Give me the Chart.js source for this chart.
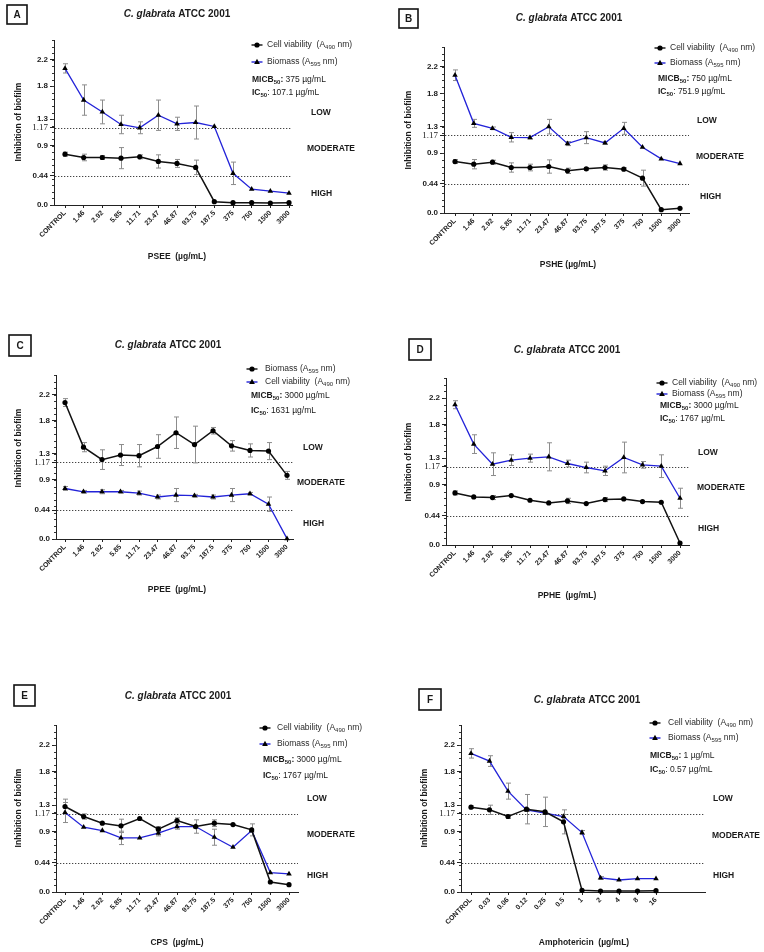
<!DOCTYPE html>
<html><head><meta charset="utf-8">
<script src="https://cdn.jsdelivr.net/npm/chart.js@4.4.1/dist/chart.umd.min.js"></script>
<style>
html,body{margin:0;padding:0;background:#fff;}
#wrap{position:relative;width:764px;height:952px;overflow:hidden;background:#fff;}
canvas{position:absolute;}
</style></head><body><div id="wrap"></div>
<script>
// ---------- DATA ----------
const concLabels = ['CONTROL','1.46','2.92','5.85','11.71','23.47','46.87','93.75','187.5','375','750','1500','3000'];
const amphoLabels = ['CONTROL','0.03','0.06','0.12','0.25','0.5','1','2','4','8','16'];
const yTickValues = [0, 0.44, 0.9, 1.17, 1.3, 1.8, 2.2];
const thresholdLow = 1.17;
const thresholdHigh = 0.44;

// Panel A (PSEE)
const aViability    = [0.77,0.72,0.72,0.71,0.73,0.66,0.63,0.57,0.05,0.035,0.035,0.03,0.035];
const aViabilityErr = [0.03,0.05,0.03,0.16,0.03,0.10,0.06,0.11,0,0,0,0,0];
const aBiomass      = [2.07,1.59,1.41,1.22,1.17,1.36,1.23,1.25,1.19,0.48,0.24,0.21,0.18];
const aBiomassErr   = [0.07,0.23,0.18,0.14,0.09,0.23,0.10,0.25,0,0.17,0,0,0];
// Panel B (PSHE)
const bViability    = [0.775,0.735,0.765,0.685,0.685,0.70,0.635,0.665,0.685,0.66,0.525,0.05,0.07];
const bViabilityErr = [0.03,0.07,0.03,0.07,0.05,0.10,0.04,0.02,0.04,0.02,0.12,0,0];
const bBiomass      = [2.075,1.35,1.275,1.14,1.135,1.30,1.045,1.135,1.055,1.275,0.99,0.815,0.745];
const bBiomassErr   = [0.08,0.06,0.02,0.07,0.02,0.11,0.03,0.09,0.02,0.09,0,0,0];
// Panel C (PPEE)
const cBiomass      = [2.08,1.40,1.21,1.28,1.27,1.41,1.62,1.44,1.65,1.42,1.35,1.34,0.97];
const cBiomassErr   = [0.06,0.07,0.15,0.16,0.17,0.18,0.24,0.28,0.05,0.08,0.10,0.13,0.06];
const cViability    = [0.77,0.72,0.72,0.72,0.70,0.64,0.67,0.66,0.64,0.67,0.69,0.53,0.005];
const cViabilityErr = [0.03,0.02,0.03,0.02,0.03,0.03,0.10,0.02,0.03,0.10,0.02,0.11,0];
// Panel D (PPHE)
const dViability    = [0.78,0.72,0.71,0.74,0.67,0.63,0.66,0.62,0.68,0.69,0.65,0.64,0.03];
const dViabilityErr = [0.03,0,0.03,0,0,0,0.04,0,0.03,0,0,0,0];
const dBiomass      = [2.10,1.51,1.21,1.27,1.30,1.32,1.22,1.16,1.11,1.31,1.20,1.18,0.70];
const dBiomassErr   = [0.06,0.14,0.17,0.08,0.06,0.21,0.05,0.08,0.07,0.23,0.05,0.17,0.15];
// Panel E (CPS)
const eViability    = [1.28,1.13,1.03,0.99,1.10,0.94,1.07,0.98,1.03,1.01,0.93,0.15,0.11];
const eViabilityErr = [0.11,0.04,0,0.10,0,0.04,0.04,0.10,0.05,0,0.09,0,0];
const eBiomass      = [1.19,0.97,0.92,0.81,0.81,0.88,0.98,0.98,0.82,0.67,0.92,0.29,0.27];
const eBiomassErr   = [0.15,0,0,0.10,0,0.04,0.04,0,0.12,0,0,0,0];
// Panel F (Amphotericin)
const fViability    = [1.27,1.23,1.13,1.24,1.20,1.05,0.025,0.015,0.015,0.015,0.02];
const fViabilityErr = [0.02,0.07,0.03,0.22,0.22,0.18,0,0,0,0,0];
const fBiomass      = [2.075,1.96,1.51,1.23,1.18,1.13,0.89,0.21,0.18,0.20,0.20];
const fBiomassErr   = [0.07,0.08,0.12,0.02,0.02,0.03,0.03,0.02,0,0,0];

// ---------- STYLE ----------
const SANS = "'Liberation Sans', Arial, sans-serif";
const SERIF = "'Liberation Serif', 'Times New Roman', serif";
const BLUE = '#2323d8';
const INK = '#1a1a1a';

function richWidth(ctx, parts){let w=0;for(const p of parts){ctx.font=p.font;w+=ctx.measureText(p.t).width;}return w;}
function richText(ctx, x, y, parts){
  let cx = x;
  for (const p of parts){ctx.font=p.font;ctx.fillText(p.t,cx,y+(p.dy||0));cx+=ctx.measureText(p.t).width;}
}
function drawMarker(ctx, style, x, y){
  ctx.fillStyle='#000';
  ctx.beginPath();
  if(style==='circle'){ctx.arc(x,y,2.6,0,Math.PI*2);}
  else {const r=3.2;ctx.moveTo(x,y-r);ctx.lineTo(x+r*0.9,y+r*0.6);ctx.lineTo(x-r*0.9,y+r*0.6);ctx.closePath();}
  ctx.fill();
}

const panelPlugin = {
  id:'panel',
  beforeDatasetsDraw(chart, args, o){
    const {ctx, chartArea:a, scales:{x,y}} = chart;
    ctx.save();
    ctx.strokeStyle='#444';ctx.lineWidth=1;ctx.setLineDash([1.3,1.7]);
    for(const v of [thresholdLow, thresholdHigh]){
      const py=Math.round(y.getPixelForValue(v))+0.5;
      ctx.beginPath();ctx.moveTo(a.left+1,py);ctx.lineTo(a.right,py);ctx.stroke();
    }
    ctx.setLineDash([]);
    ctx.strokeStyle='#8c8c8c';ctx.lineWidth=1;
    chart.data.datasets.forEach(ds=>{
      const errs=ds.errors; if(!errs) return;
      ds.data.forEach((pt,i)=>{
        const e=errs[i]; if(!e) return;
        const px=Math.round(x.getPixelForValue(pt.x))+0.5;
        const y1=y.getPixelForValue(pt.y+e), y2=y.getPixelForValue(pt.y-e);
        ctx.beginPath();
        ctx.moveTo(px,y1);ctx.lineTo(px,y2);
        ctx.moveTo(px-2.5,y1);ctx.lineTo(px+2.5,y1);
        ctx.moveTo(px-2.5,y2);ctx.lineTo(px+2.5,y2);
        ctx.stroke();
      });
    });
    ctx.restore();
  },
  afterDraw(chart, args, o){
    const {ctx, chartArea:a, scales:{y}} = chart;
    ctx.save();
    // minor ticks
    ctx.strokeStyle='#333';ctx.lineWidth=1;
    for(let k=0;k<=25;k++){
      const py=Math.round(y.getPixelForValue(k/10))+0.5;
      ctx.beginPath();ctx.moveTo(a.left-2,py);ctx.lineTo(a.left,py);ctx.stroke();
    }
    ctx.translate(-o.ox,-o.oy);
    ctx.fillStyle=INK;ctx.textBaseline='middle';
    // panel letter box
    const L=o.letter;
    ctx.strokeStyle='#111';ctx.lineWidth=1.6;
    ctx.strokeRect(L.x,L.y,L.w,L.h);
    ctx.font='bold 10px '+SANS;ctx.textAlign='center';
    ctx.fillText(L.t,L.x+L.w/2,L.y+L.h/2+0.5);
    // title
    ctx.textAlign='left';
    const tparts=[{t:'C. glabrata',font:'italic bold 10px '+SANS},{t:' ATCC 2001',font:'bold 10px '+SANS}];
    const tw=richWidth(ctx,tparts);
    richText(ctx,o.title.cx-tw/2,o.title.y,tparts);
    // axis titles
    ctx.font='bold 8.5px '+SANS;ctx.textAlign='center';
    ctx.fillText(o.xTitle.t,o.xTitle.cx,o.xTitle.y);
    ctx.save();ctx.translate(o.yTitle.x,o.yTitle.cy);ctx.rotate(-Math.PI/2);
    ctx.fillText('Inhibition of biofilm',0,0);ctx.restore();
    // zones
    ctx.textAlign='left';ctx.font='bold 8.5px '+SANS;
    ctx.fillText('LOW',o.zones.low[0],o.zones.low[1]);
    ctx.fillText('MODERATE',o.zones.mod[0],o.zones.mod[1]);
    ctx.fillText('HIGH',o.zones.high[0],o.zones.high[1]);
    // legend
    const g=o.legend;
    const reg='8.5px '+SANS, sub='6px '+SANS, bold='bold 8.5px '+SANS, bsub='bold 6px '+SANS;
    g.rows.forEach((r,i)=>{
      const ly=g.rowY[i];
      ctx.strokeStyle=r.color;ctx.lineWidth=1.4;
      ctx.beginPath();ctx.moveTo(g.mx-5.5,ly);ctx.lineTo(g.mx+5.5,ly);ctx.stroke();
      drawMarker(ctx,r.marker,g.mx,ly);
      ctx.fillStyle='#2a2a2a';
      richText(ctx,g.tx,ly,[{t:r.text,font:reg},{t:r.sub,font:sub,dy:2.5},{t:' nm)',font:reg}]);
    });
    ctx.fillStyle=INK;
    richText(ctx,g.sx,g.micbY,[{t:'MICB',font:bold},{t:'50',font:bsub,dy:2.5},{t:':',font:bold},{t:' '+g.micb,font:reg}]);
    richText(ctx,g.sx,g.icY,[{t:'IC',font:bold},{t:'50',font:bsub,dy:2.5},{t:': '+g.ic,font:reg}]);
    ctx.restore();
  }
};

const wrap=document.getElementById('wrap');
const vRow=(marker,color)=>({text:'Cell viability  (A',sub:'490',marker,color});
const bRow=(marker,color)=>({text:'Biomass (A',sub:'595',marker,color});

function makePanel(cfg){
  const b=cfg.box, A=cfg.area;
  const canvas=document.createElement('canvas');
  canvas.width=b.w;canvas.height=b.h;
  canvas.style.left=b.x+'px';canvas.style.top=b.y+'px';
  canvas.style.width=b.w+'px';canvas.style.height=b.h+'px';
  wrap.appendChild(canvas);
  const n=cfg.labels.length;
  const sp=(A.last-A.first)/(n-1);
  const xmin=(A.l-A.first)/sp, xmax=(A.r-A.first)/sp;
  const pts=arr=>arr.map((v,i)=>({x:i,y:v}));
  new Chart(canvas,{
    type:'line',
    data:{datasets:[
      {data:pts(cfg.black),errors:cfg.blackErr,borderColor:'#111',borderWidth:1.5,pointStyle:'circle',pointRadius:2.6,
       pointBackgroundColor:'#000',pointBorderColor:'#000',pointBorderWidth:0,clip:false,tension:0},
      {data:pts(cfg.blue),errors:cfg.blueErr,borderColor:BLUE,borderWidth:1.3,pointStyle:'triangle',pointRadius:3.2,
       pointBackgroundColor:'#000',pointBorderColor:'#000',pointBorderWidth:0,clip:false,tension:0}
    ]},
    options:{
      responsive:false,animation:false,devicePixelRatio:1,
      layout:{padding:{left:0,top:A.t-b.y,right:b.x+b.w-A.r,bottom:0}},
      plugins:{legend:{display:false},tooltip:{enabled:false},title:{display:false},
        panel:{ox:b.x,oy:b.y,letter:cfg.letter,title:cfg.title,xTitle:cfg.xTitle,yTitle:cfg.yTitle,zones:cfg.zones,legend:cfg.legend}},
      scales:{
        x:{type:'linear',min:xmin,max:xmax,
          afterBuildTicks:s=>{s.ticks=cfg.labels.map((_,i)=>({value:i}));},
          afterFit:s=>{s.height=b.y+b.h-A.b;},
          ticks:{autoSkip:false,minRotation:45,maxRotation:45,padding:1,color:INK,
            font:{family:SANS,size:7,weight:'bold'},callback:v=>cfg.labels[v]??''},
          grid:{display:true,drawOnChartArea:false,drawTicks:true,tickLength:3,color:'#222',lineWidth:1},
          border:{display:true,color:'#222',width:1}},
        y:{type:'linear',min:0,max:2.5,
          afterBuildTicks:s=>{s.ticks=yTickValues.map(v=>({value:v}));},
          afterFit:s=>{s.width=A.l-b.x;},
          ticks:{autoSkip:false,padding:2,color:INK,
            font:c=>(c.tick&&c.tick.value===1.17)?{family:SERIF,size:9,weight:'normal'}:{family:SANS,size:8,weight:'bold'},
            callback:v=>v===0?'0.0':String(v)},
          grid:{display:true,drawOnChartArea:false,drawTicks:true,tickLength:4,color:'#222',lineWidth:1},
          border:{display:true,color:'#222',width:1}}
      }
    },
    plugins:[panelPlugin]
  });
}

makePanel({
  box:{x:0,y:0,w:382,h:315}, area:{l:54,t:40,r:292,b:205,first:65,last:289}, labels:concLabels,
  black:aViability,blackErr:aViabilityErr,blue:aBiomass,blueErr:aBiomassErr,
  letter:{x:7,y:5,w:20,h:19,t:'A'}, title:{cx:177,y:14}, xTitle:{t:'PSEE  (µg/mL)',cx:177,y:257}, yTitle:{x:19,cy:122},
  zones:{low:[311,113],mod:[307,149],high:[311,194]},
  legend:{mx:257,tx:267,rowY:[45,62],rows:[vRow('circle','#111'),bRow('triangle',BLUE)],sx:252,micbY:80,icY:93,micb:'375 µg/mL',ic:'107.1 µg/mL'}
});
makePanel({
  box:{x:382,y:0,w:382,h:315}, area:{l:444,t:47,r:689,b:213,first:455,last:680}, labels:concLabels,
  black:bViability,blackErr:bViabilityErr,blue:bBiomass,blueErr:bBiomassErr,
  letter:{x:399,y:9,w:19,h:19,t:'B'}, title:{cx:569,y:18}, xTitle:{t:'PSHE (µg/mL)',cx:568,y:265}, yTitle:{x:409,cy:130},
  zones:{low:[697,121],mod:[696,157],high:[700,197]},
  legend:{mx:660,tx:670,rowY:[48,63],rows:[vRow('circle','#111'),bRow('triangle',BLUE)],sx:658,micbY:79,icY:92,micb:'750 µg/mL',ic:'751.9 µg/mL'}
});
makePanel({
  box:{x:0,y:315,w:382,h:315}, area:{l:56,t:375,r:293,b:539,first:65,last:287}, labels:concLabels,
  black:cBiomass,blackErr:cBiomassErr,blue:cViability,blueErr:cViabilityErr,
  letter:{x:9,y:335,w:22,h:21,t:'C'}, title:{cx:168,y:345}, xTitle:{t:'PPEE  (µg/mL)',cx:177,y:590}, yTitle:{x:19,cy:448},
  zones:{low:[303,448],mod:[297,483],high:[303,524]},
  legend:{mx:252,tx:265,rowY:[369,382],rows:[bRow('circle','#111'),vRow('triangle',BLUE)],sx:251,micbY:396,icY:411,micb:'3000 µg/mL',ic:'1631 µg/mL'}
});
makePanel({
  box:{x:382,y:315,w:382,h:315}, area:{l:446,t:378,r:689,b:545,first:455,last:680}, labels:concLabels,
  black:dViability,blackErr:dViabilityErr,blue:dBiomass,blueErr:dBiomassErr,
  letter:{x:409,y:339,w:22,h:21,t:'D'}, title:{cx:567,y:350}, xTitle:{t:'PPHE  (µg/mL)',cx:567,y:596}, yTitle:{x:409,cy:462},
  zones:{low:[698,453],mod:[697,488],high:[698,529]},
  legend:{mx:662,tx:672,rowY:[383,394],rows:[vRow('circle','#111'),bRow('triangle',BLUE)],sx:660,micbY:406,icY:419,micb:'3000 µg/mL',ic:'1767 µg/mL'}
});
makePanel({
  box:{x:0,y:630,w:382,h:322}, area:{l:56,t:725,r:298,b:892,first:65,last:289}, labels:concLabels,
  black:eViability,blackErr:eViabilityErr,blue:eBiomass,blueErr:eBiomassErr,
  letter:{x:14,y:685,w:21,h:21,t:'E'}, title:{cx:178,y:696}, xTitle:{t:'CPS  (µg/mL)',cx:177,y:943}, yTitle:{x:19,cy:808},
  zones:{low:[307,799],mod:[307,835],high:[307,876]},
  legend:{mx:265,tx:277,rowY:[728,744],rows:[vRow('circle','#111'),bRow('triangle',BLUE)],sx:263,micbY:760,icY:776,micb:'3000 µg/mL',ic:'1767 µg/mL'}
});
makePanel({
  box:{x:382,y:630,w:382,h:322}, area:{l:461,t:725,r:705,b:892,first:471,last:656}, labels:amphoLabels,
  black:fViability,blackErr:fViabilityErr,blue:fBiomass,blueErr:fBiomassErr,
  letter:{x:419,y:689,w:22,h:21,t:'F'}, title:{cx:587,y:700}, xTitle:{t:'Amphotericin  (µg/mL)',cx:584,y:943}, yTitle:{x:425,cy:808},
  zones:{low:[713,799],mod:[712,836],high:[713,876]},
  legend:{mx:655,tx:668,rowY:[723,738],rows:[vRow('circle','#111'),bRow('triangle',BLUE)],sx:650,micbY:756,icY:770,micb:'1 µg/mL',ic:'0.57 µg/mL'}
});
</script></body></html>
